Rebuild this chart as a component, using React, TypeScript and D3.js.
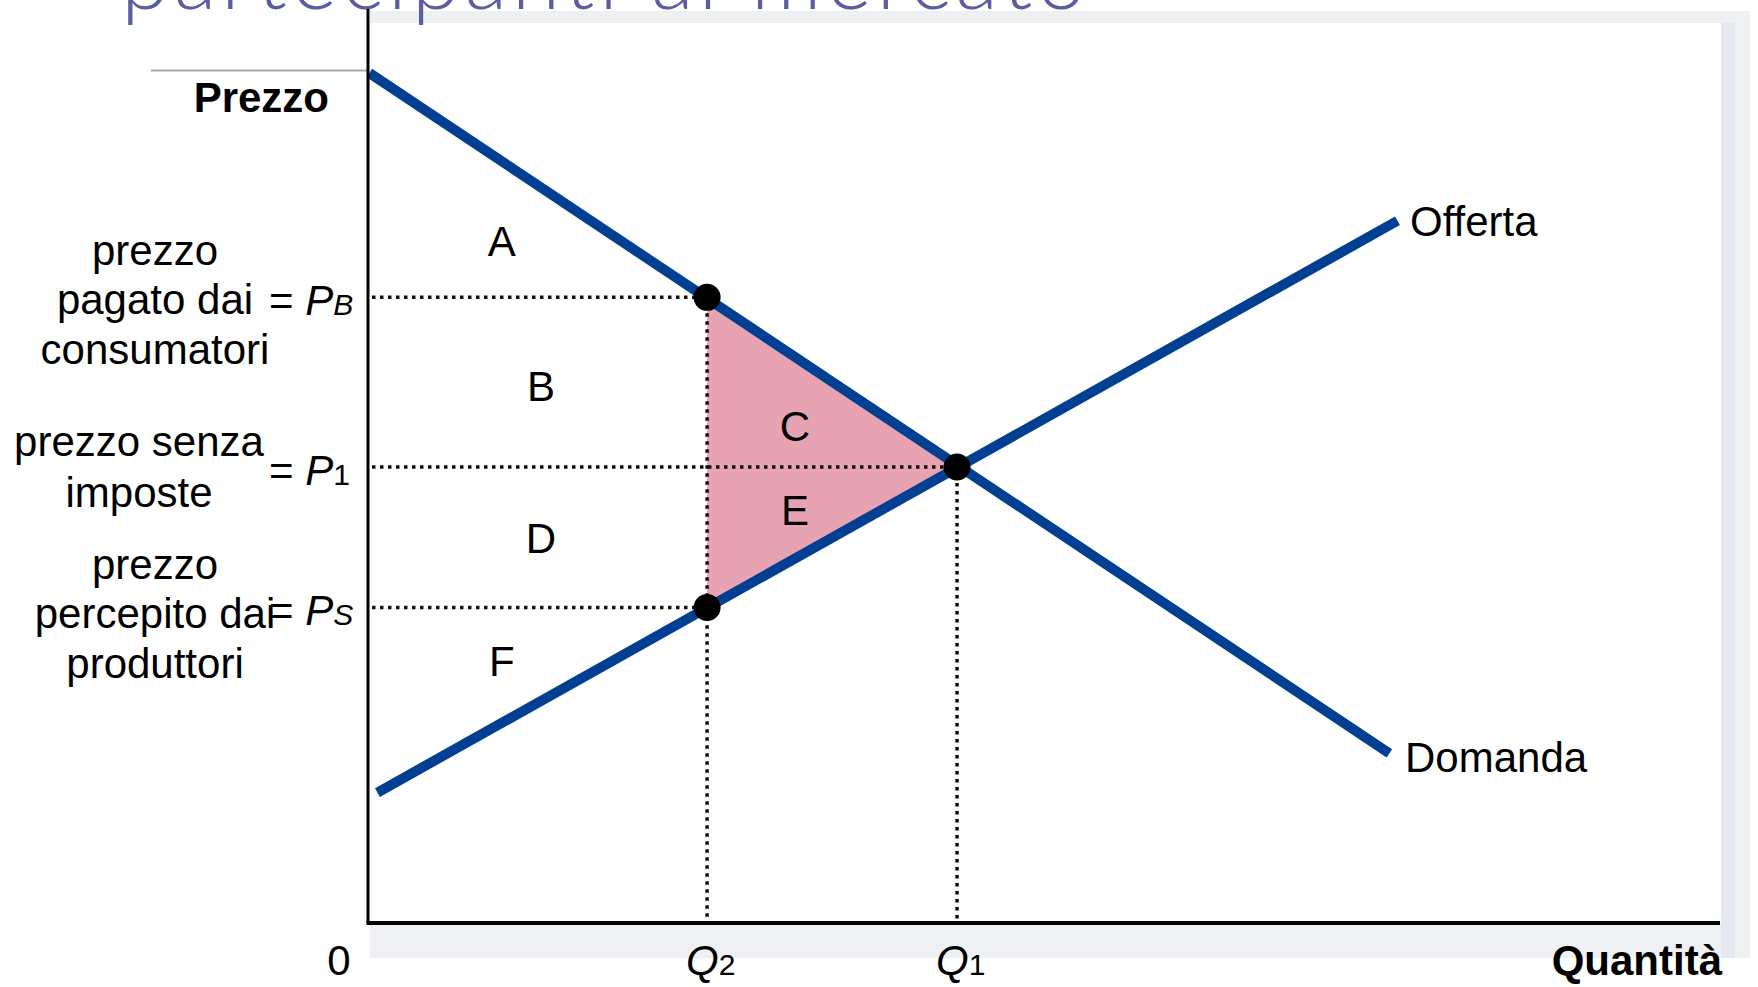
import * as d3 from 'd3'

// chart values (price / quantity units, 0-100 on both axes)
const demand: [number, number][] = [[0.1, 93.2], [75.6, 18.6]]
const supply: [number, number][] = [[0.7, 14.3], [76.2, 77.0]]

const Q1 = 43.6
const Q2 = 25.1
const P1 = 50.0
const PB = 68.6
const PS = 34.6

const areaLabels = ['A', 'B', 'C', 'D', 'E', 'F']
const areaX = [9.9, 12.8, 31.6, 12.8, 31.6, 9.9]
const areaY = [74.8, 58.8, 54.5, 42.2, 45.3, 28.7]

const W = 1758
const H = 987
const FONT = '"Liberation Sans", Arial, sans-serif'
const BLUE = '#003F91'
const PINK = '#E8A3B3'

export default function App() {
  const x = d3.scaleLinear().domain([0, 100]).range([368, 1719])
  const y = d3.scaleLinear().domain([0, 100]).range([923, 11])
  const line = d3.line<[number, number]>().x((d) => x(d[0])).y((d) => y(d[1]))

  const triangle: [number, number][] = [[Q2, PB], [Q1, P1], [Q2, PS]]

  // left-hand price labels
  const priceLabels = [
    { p: PB, lines: ['prezzo', 'pagato dai', 'consumatori'], cx: 155, offs: [-32, 17, 67], sym: 'P', sub: 'B', subItalic: true },
    { p: P1, lines: ['prezzo senza', 'imposte'], cx: 139, offs: [-11, 40], sym: 'P', sub: '1', subItalic: false },
    { p: PS, lines: ['prezzo', 'percepito dai', 'produttori'], cx: 155, offs: [-28, 21, 71], sym: 'P', sub: 'S', subItalic: true },
  ]

  return (
    <svg width={W} height={H} style={{ position: 'absolute', left: 0, top: 0, background: '#fff' }} fontFamily={FONT}>
      {/* slide frame shadow */}
      <rect x={370} y={11} width={1380} height={947} fill="#EEF0F4" />
      <rect x={1721} y={23} width={14} height={935} fill="#E4E7EF" />
      <rect x={370} y={23} width={1351} height={900} fill="#fff" />

      {/* cut-off slide title */}
      <text x={121} y={9} fontFamily="Lato, 'Open Sans', sans-serif" fontWeight={300} fontSize={88} letterSpacing={4.5} fill="#5A5D9F">
        partecipanti al mercato
      </text>

      {/* welfare loss triangle */}
      <path d={line(triangle) + 'Z'} fill={PINK} />

      {/* dotted guides */}
      <g stroke="#111" strokeWidth={3.5} strokeDasharray="3.5,4.5">
        {[[Q2, PB], [Q1, P1], [Q2, PS]].map(([q, p], i) => (
          <line key={'h' + i} x1={x(0) + 4} x2={x(q)} y1={y(p)} y2={y(p)} />
        ))}
        {[[Q2, PB], [Q1, P1]].map(([q, p], i) => (
          <line key={'v' + i} x1={x(q)} x2={x(q)} y1={y(p)} y2={y(0) - 2} />
        ))}
      </g>

      {/* curves */}
      <path d={line(demand) ?? ''} stroke={BLUE} strokeWidth={10} fill="none" />
      <path d={line(supply) ?? ''} stroke={BLUE} strokeWidth={10} fill="none" />

      {/* points */}
      {[[Q2, PB], [Q1, P1], [Q2, PS]].map(([q, p], i) => (
        <circle key={i} cx={x(q)} cy={y(p)} r={13.5} fill="#000" />
      ))}

      {/* axes */}
      <line x1={151} x2={x(0)} y1={70.5} y2={70.5} stroke="#A8A8A8" strokeWidth={2} />
      <line x1={x(0)} x2={x(0)} y1={9} y2={y(0)} stroke="#000" strokeWidth={3} />
      <line x1={x(0) - 1.5} x2={1720} y1={y(0)} y2={y(0)} stroke="#000" strokeWidth={4} />

      {/* area labels */}
      {areaLabels.map((l, i) => (
        <text key={l} x={x(areaX[i])} y={y(areaY[i])} dy="0.35em" textAnchor="middle" fontSize={42}>
          {l}
        </text>
      ))}

      <text x={1410} y={236} fontSize={42}>Offerta</text>
      <text x={1405} y={772} fontSize={42}>Domanda</text>

      <text x={329} y={112} textAnchor="end" fontSize={42} fontWeight="bold">Prezzo</text>
      <text x={1722} y={975} textAnchor="end" fontSize={42} fontWeight="bold">Quantità</text>
      <text x={339} y={975} textAnchor="middle" fontSize={42}>0</text>

      {/* quantity labels */}
      {[{ q: Q2, sub: '2' }, { q: Q1, sub: '1' }].map((d) => (
        <text key={d.sub} x={x(d.q) - 21} y={975} fontSize={42}>
          <tspan fontStyle="italic">Q</tspan>
          <tspan fontSize={30}>{d.sub}</tspan>
        </text>
      ))}

      {/* price labels */}
      {priceLabels.map((g, gi) => (
        <g key={gi}>
          {g.lines.map((t, li) => (
            <text key={li} x={g.cx} y={y(g.p) + g.offs[li]} textAnchor="middle" fontSize={42}>
              {t}
            </text>
          ))}
          <text x={269} y={y(g.p) + 18} fontSize={42}>
            {'= '}
            <tspan fontStyle="italic">{g.sym}</tspan>
            <tspan fontSize={30} fontStyle={g.subItalic ? 'italic' : 'normal'}>{g.sub}</tspan>
          </text>
        </g>
      ))}
    </svg>
  )
}
